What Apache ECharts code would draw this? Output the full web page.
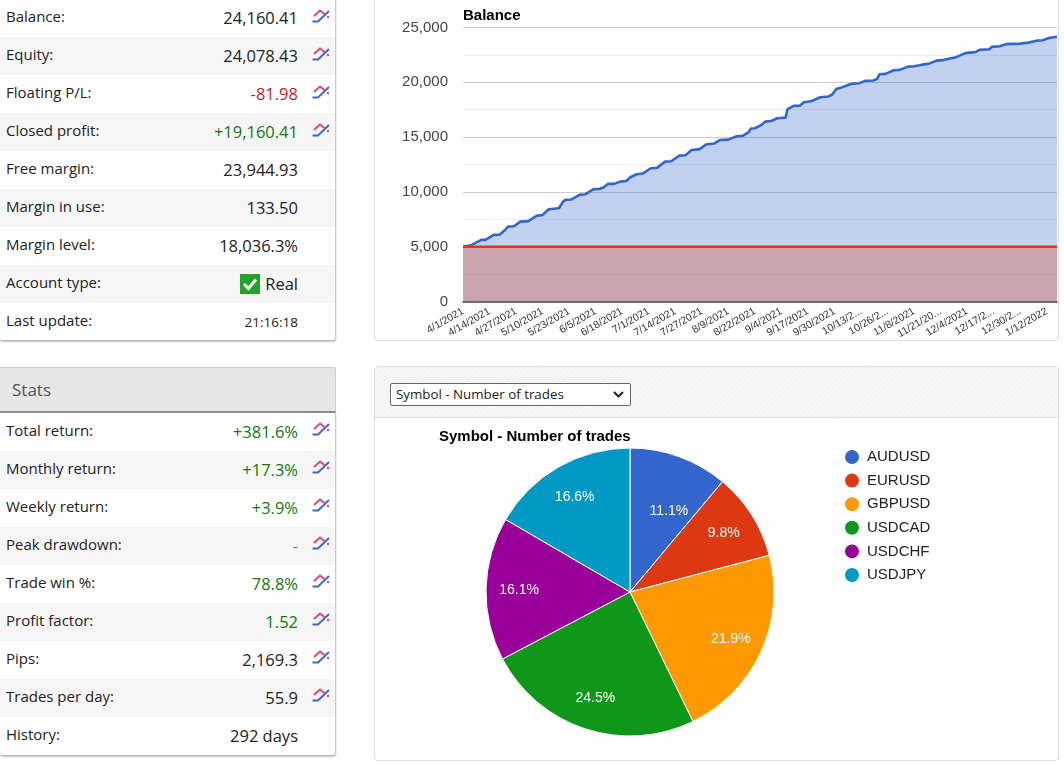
<!DOCTYPE html>
<html>
<head>
<meta charset="utf-8">
<title>Account overview</title>
<script src="https://cdn.jsdelivr.net/npm/echarts@6/dist/echarts.min.js"></script>
<style>
  html, body { margin: 0; padding: 0; background: #fff; width: 1064px; height: 765px; overflow: hidden; }
  body { position: relative; font-family: "Open Sans", sans-serif; color: #222; }
  .panel { position: absolute; background: #fff; box-sizing: border-box; }
  .stat-panel { left: 0; width: 336px; border-right: 1px solid #ccc; border-bottom: 1px solid #bbb;
                border-radius: 0 0 3px 3px; box-shadow: 0 1px 2px rgba(0,0,0,.25); }
  .row { position: relative; height: 38px; }
  .row:nth-child(even) { background: #f6f6f6; }
  .row .name { position: absolute; left: 6px; top: 5px; font-size: 15px; line-height: 24px; }
  .row .val  { position: absolute; right: 37px; top: 7px; font-size: 16.5px; line-height: 24px; white-space: nowrap; }
  .row .val.small { font-size: 13.5px; }
  .row svg.trend { position: absolute; left: 312px; top: 9px; }
  #accountPanel svg.trend { top: 10px; }
  .pos { color: #107a10; }
  .neg { color: #bb1f2a; }
  .tick-box { position: absolute; left: -25px; top: 2px; width: 20px; height: 20px; background: #22a22a; }
  #statsHead { position: absolute; left: 0; top: 367px; width: 336px; height: 46px; box-sizing: border-box;
               background: #e7e7e7; border: 1px solid #ccc; border-left: 0; border-bottom: 2px solid #8c8c8c;
               border-radius: 0 3px 0 0; font-size: 17px; color: #555; line-height: 43px; padding-left: 12px; }
  #balancePanel { left: 374px; top: -2px; width: 685px; height: 343px; border: 1px solid #ddd; border-radius: 0 0 4px 4px; }
  #piePanel { left: 374px; top: 366px; width: 685px; height: 395px; border: 1px solid #ddd; border-radius: 4px; }
  #pieHead { position: absolute; left: 0; top: 0; width: 100%; height: 51px; box-sizing: border-box;
             border-bottom: 1px solid #ddd; background: repeating-linear-gradient(135deg, #f7f7f7 0 2px, #f3f3f3 2px 4px); }
  #pieHead select { position: absolute; left: 15px; top: 16px; width: 241px; height: 23px; font-family: "Open Sans", sans-serif;
                    font-size: 13.33px; color: #222; border: 1px solid #666; border-radius: 2px; padding: 0 0 2px 5px;
                    appearance: none; -webkit-appearance: none; outline: none;
                    background: #fff url("data:image/svg+xml,%3Csvg xmlns='http://www.w3.org/2000/svg' width='11' height='7'%3E%3Cpath d='M1 1 L5.5 5.5 L10 1' fill='none' stroke='%23222' stroke-width='2'/%3E%3C/svg%3E") no-repeat right 6px center; }
  #balanceChart { position: absolute; left: 375px; top: 0; width: 683px; height: 340px; }
  #pieChart { position: absolute; left: 375px; top: 418px; width: 683px; height: 342px; }
</style>
</head>
<body>
<svg width="0" height="0" style="position:absolute">
  <symbol id="trendIcon" viewBox="0 0 18 14">
    <path d="M0.5 12.5 L6 12.5 L17 2" fill="none" stroke="#3f67c9" stroke-width="2"/>
    <path d="M2 7 L8 1.5 L13 5.5" fill="none" stroke="#d8447f" stroke-width="1.8"/>
    <circle cx="16" cy="8" r="1.2" fill="#d8447f"/>
  </symbol>
</svg>
<div class="panel stat-panel" id="accountPanel" style="top:-1px;height:342px"></div>
<div id="statsHead">Stats</div>
<div class="panel stat-panel" id="statsPanel" style="top:413px;height:343px"></div>
<div class="panel" id="balancePanel"></div>
<div class="panel" id="piePanel">
  <div id="pieHead"><select><option>Symbol - Number of trades</option></select></div>
</div>
<div id="balanceChart"></div>
<div id="pieChart"></div>

<script>
// Account and performance figures for the two side tables: [label, value, tone, has trend icon]
const accountRows = [
  ["Balance:", "24,160.41", "", true],
  ["Equity:", "24,078.43", "", true],
  ["Floating P/L:", "-81.98", "neg", true],
  ["Closed profit:", "+19,160.41", "pos", true],
  ["Free margin:", "23,944.93", "", false],
  ["Margin in use:", "133.50", "", false],
  ["Margin level:", "18,036.3%", "", false],
  ["Account type:", "Real", "real", false],
  ["Last update:", "21:16:18", "small", false]
];
const statsRows = [
  ["Total return:", "+381.6%", "pos", true],
  ["Monthly return:", "+17.3%", "pos", true],
  ["Weekly return:", "+3.9%", "pos", true],
  ["Peak drawdown:", "-", "dash", true],
  ["Trade win %:", "78.8%", "pos", true],
  ["Profit factor:", "1.52", "pos", true],
  ["Pips:", "2,169.3", "", true],
  ["Trades per day:", "55.9", "", true],
  ["History:", "292 days", "", false]
];

// Balance history: the day number since the first date, and the balance on that day
const balanceDays = [
  0, 4, 9, 11, 15, 18, 21, 22, 25, 28, 32, 36, 39, 42, 47, 49, 50, 53, 57, 60, 64, 67, 69,
  71, 74, 77, 80, 82, 85, 88, 92, 95, 99, 102, 106, 109, 112, 116, 119, 123, 126, 130, 134,
  137, 140, 141, 143, 146, 148, 151, 154, 158, 159, 162, 165, 167, 171, 175, 179, 181, 183,
  185, 190, 194, 197, 201, 203, 204, 207, 211, 214, 218, 221, 225, 228, 232, 235, 239, 241,
  246, 251, 253, 258, 259, 263, 266, 273, 277, 281, 284, 287, 291
];
const balanceValues = [
  5000, 5140, 5620, 5620, 6080, 6100, 6600, 6830, 6870, 7290, 7330, 7810, 7900, 8420, 8510, 9110, 9270, 9300, 9730, 9790, 10250, 10270, 10430,
  10730, 10730, 10940, 11000, 11340, 11610, 11670, 12160, 12190, 12760, 12800, 13310, 13350, 13830, 13900, 14320, 14410, 14740, 14770, 15080,
  15110, 15450, 15780, 15810, 16090, 16410, 16470, 16720, 16780, 17550, 17850, 17870, 18180, 18300, 18640, 18700, 18910, 19420,
  19490, 19850, 19920, 20130, 20160, 20340, 20740, 20770, 21100, 21130, 21430, 21470, 21610, 21680, 21980, 22020, 22200, 22250,
  22660, 22750, 22960, 23020, 23230, 23290, 23480, 23530, 23620, 23800, 23840, 24050, 24160
];
const depositDays = [0, 291];
const depositValues = [5000, 5000];

// Date ticks, one every 13 days; long ones are cut short
const tickEvery = 13;
const tickLabels = [
  "4/1/2021", "4/14/2021", "4/27/2021", "5/10/2021", "5/23/2021", "6/5/2021", "6/18/2021", "7/1/2021",
  "7/14/2021", "7/27/2021", "8/9/2021", "8/22/2021", "9/4/2021", "9/17/2021", "9/30/2021", "10/13/2...",
  "10/26/2...", "11/8/2021", "11/21/20...", "12/4/2021", "12/17/2...", "12/30/2...", "1/12/2022"
];

// Share of trades per symbol
const symbols = ["AUDUSD", "EURUSD", "GBPUSD", "USDCAD", "USDCHF", "USDJPY"];
const tradeShares = [11.1, 9.8, 21.9, 24.5, 16.1, 16.6];
const symbolColors = ["#3366cc", "#dc3912", "#ff9900", "#109618", "#990099", "#0099c6"];

function fillRows(hostId, rows) {
  const host = document.getElementById(hostId);
  rows.forEach(function (r) {
    const row = document.createElement("div");
    row.className = "row";
    const name = document.createElement("span");
    name.className = "name";
    name.textContent = r[0];
    const val = document.createElement("span");
    val.className = "val" + (r[2] ? " " + r[2] : "");
    val.textContent = r[1];
    if (r[2] === "real") {
      const box = document.createElement("span");
      box.className = "tick-box";
      box.innerHTML = '<svg width="20" height="20" viewBox="0 0 20 20"><path d="M4 10 L8.5 14.5 L16 5.5" fill="none" stroke="#fff" stroke-width="3"/></svg>';
      val.appendChild(box);
    }
    if (r[2] === "dash") val.style.color = "#777";
    row.appendChild(name);
    row.appendChild(val);
    if (r[3]) {
      const icon = document.createElementNS("http://www.w3.org/2000/svg", "svg");
      icon.setAttribute("class", "trend");
      icon.setAttribute("width", "18");
      icon.setAttribute("height", "14");
      icon.innerHTML = '<use href="#trendIcon"></use>';
      row.appendChild(icon);
    }
    host.appendChild(row);
  });
}
fillRows("accountPanel", accountRows);
fillRows("statsPanel", statsRows);

// One category per calendar day over the 292 days of history
const dayNames = [];
for (let i = 0; i < 292; i++) {
  const d = new Date(2021, 3, 1 + i);
  dayNames.push((d.getMonth() + 1) + "/" + d.getDate() + "/" + d.getFullYear());
}

const balanceChart = echarts.init(document.getElementById("balanceChart"));
balanceChart.setOption({
  animation: false,
  title: {
    text: "Balance", left: 88, top: 8, padding: 0,
    textStyle: { fontFamily: "Liberation Sans", fontSize: 15, fontWeight: "bold", color: "#000" }
  },
  grid: { left: 88, right: 1, top: 27.5, height: 274, outerBoundsMode: "none" },
  xAxis: {
    type: "category",
    data: dayNames,
    boundaryGap: false,
    axisTick: { show: false },
    axisLine: { lineStyle: { color: "#444", width: 1.5 } },
    splitLine: { show: false },
    axisLabel: {
      rotate: 30,
      margin: 9,
      fontFamily: "Liberation Sans",
      fontSize: 10.5,
      color: "#333",
      interval: function (i) { return i % tickEvery === 0; },
      formatter: function (value, i) { return tickLabels[i / tickEvery] || ""; }
    }
  },
  yAxis: {
    type: "value",
    min: 0,
    max: 25000,
    interval: 5000,
    axisLine: { show: false },
    axisTick: { show: false },
    minorTick: { show: false, splitNumber: 2 },
    splitLine: { lineStyle: { color: "#cccccc", width: 1 } },
    minorSplitLine: { show: true, lineStyle: { color: "#ebebeb", width: 1 } },
    axisLabel: {
      margin: 15,
      fontFamily: "Liberation Sans",
      fontSize: 15,
      color: "#444",
      formatter: function (v) { return v.toLocaleString("en-US"); }
    }
  },
  series: [
    {
      name: "Balance",
      type: "line",
      data: balanceDays.map(function (d, i) { return [d, balanceValues[i]]; }),
      showSymbol: false,
      lineStyle: { color: "#3366cc", width: 2.6 },
      itemStyle: { color: "#3366cc" },
      areaStyle: { color: "#3366cc", opacity: 0.3 }
    },
    {
      name: "Deposit",
      type: "line",
      data: depositDays.map(function (d, i) { return [d, depositValues[i]]; }),
      showSymbol: false,
      lineStyle: { color: "#dc3912", width: 2.6 },
      itemStyle: { color: "#dc3912" },
      areaStyle: { color: "#dc3912", opacity: 0.3 }
    }
  ]
});

const pieData = symbols.map(function (s, i) {
  return { name: s, value: tradeShares[i], itemStyle: { color: symbolColors[i] } };
});
const pieCenter = [255, 174];

const pieChart = echarts.init(document.getElementById("pieChart"));
pieChart.setOption({
  animation: false,
  title: {
    text: "Symbol - Number of trades", left: 64, top: 11, padding: 0,
    textStyle: { fontFamily: "Liberation Sans", fontSize: 15, fontWeight: "bold", color: "#000" }
  },
  legend: {
    orient: "vertical",
    left: 468,
    top: 30,
    padding: 0,
    icon: "circle",
    itemWidth: 16,
    itemHeight: 16,
    itemGap: 5.6,
    data: symbols,
    textStyle: { fontFamily: "Liberation Sans", fontSize: 15, color: "#222", padding: [0, 0, 0, 2] }
  },
  series: [
    {
      type: "pie",
      center: pieCenter,
      radius: [0, 144],
      startAngle: 90,
      clockwise: true,
      data: pieData,
      label: { show: false },
      labelLine: { show: false },
      itemStyle: { borderColor: "#fff", borderWidth: 1 },
      emphasis: { disabled: true }
    },
    {
      // Empty ring that only carries the percentage labels further out from the centre
      type: "pie",
      center: pieCenter,
      radius: [72, 144],
      startAngle: 90,
      clockwise: true,
      silent: true,
      legendHoverLink: false,
      data: pieData.map(function (d) {
        return {
          name: d.name,
          value: d.value,
          itemStyle: { color: "transparent" },
          label: { offset: d.name === "AUDUSD" ? [1, 23] : [0, 1] }
        };
      }),
      label: {
        show: true,
        position: "inside",
        formatter: function (p) { return p.value.toFixed(1) + "%"; },
        fontFamily: "Liberation Sans",
        fontSize: 14,
        color: "#fff"
      },
      labelLine: { show: false },
      emphasis: { disabled: true }
    }
  ]
});
</script>
</body>
</html>
